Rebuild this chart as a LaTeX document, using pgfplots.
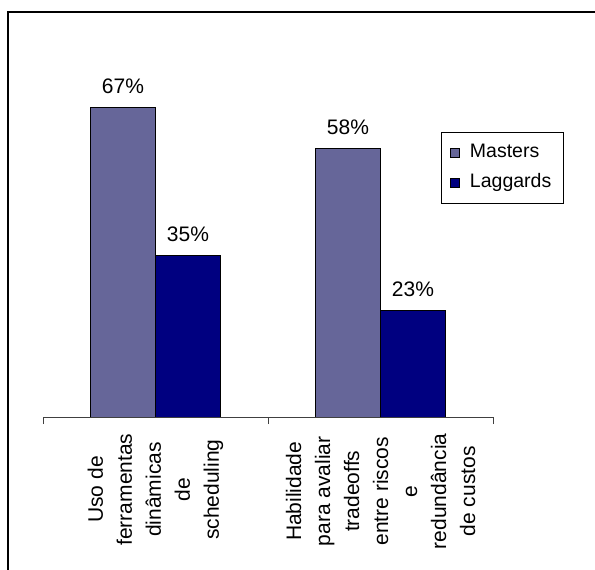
\documentclass[border=0pt]{standalone}
\usepackage{pgfplots}
\pgfplotsset{compat=1.18}
\usepackage{fontspec}
\setmainfont{Liberation Sans}
\definecolor{masters}{HTML}{666699}
\definecolor{laggards}{HTML}{000080}
\begin{document}
\begin{tikzpicture}
\useasboundingbox (0,0) rectangle (595bp,570bp);
\fill[white] (0,0) rectangle (595bp,570bp);
\draw[line width=1.3bp] (8bp,-5bp) -- (8bp,558bp) -- (600bp,558bp);
\begin{axis}[
  at={(43bp,153bp)}, anchor=south west, scale only axis,
  width=450bp, height=323.75bp,
  xmin=-0.5, xmax=1.5, ymin=0, ymax=70,
  axis x line*=bottom, axis y line=none,
  x axis line style={black!75, line width=0.8bp, -},
  ybar, bar width=65bp,
  xtick={0,1},
  xticklabels={{Uso de\\ferramentas\\dinâmicas\\de\\scheduling},{Habilidade\\para avaliar\\tradeoffs\\entre riscos\\e\\redundância\\de custos}},
  major tick length=0pt,
  extra x ticks={-0.5,0.5,1.5}, extra x tick labels={},
  extra x tick style={major tick length=7bp, tick align=outside, xtick style={draw=black!75, line width=0.8bp}},
  xticklabel style={rotate=90, anchor=east, align=center, font=\fontsize{21bp}{29bp}\selectfont},
  xticklabel shift=13bp,
  /pgf/number format/assume math mode=true,
  nodes near coords={\pgfmathprintnumber{\pgfplotspointmeta}\%},
  nodes near coords style={font=\fontsize{21bp}{25bp}\selectfont, yshift=10bp},
  sqleg/.style={legend image code/.code={\draw[##1,draw=black,line width=0.6bp] (0bp,-4.5bp) rectangle (9bp,4.5bp);}},
  legend style={at={(rel axis cs:0.8844,0.8803)}, anchor=north west, draw=black, line width=0.8bp,
    font=\fontsize{19.5bp}{22bp}\selectfont, inner xsep=9bp, inner ysep=9bp, row sep=7bp, column sep=7bp,
    nodes={text height=13bp, text depth=4bp, inner sep=3bp}},
  legend cell align=left,
]
\addplot[ybar, bar shift=-32.5bp, fill=masters, draw=black, line width=0.8bp, sqleg] coordinates {(0,67) (1,58)};
\addplot[ybar, bar shift=32.5bp, fill=laggards, draw=black, line width=0.8bp, sqleg] coordinates {(0,35) (1,23)};
\legend{Masters, Laggards}
\end{axis}
\end{tikzpicture}
\end{document}
